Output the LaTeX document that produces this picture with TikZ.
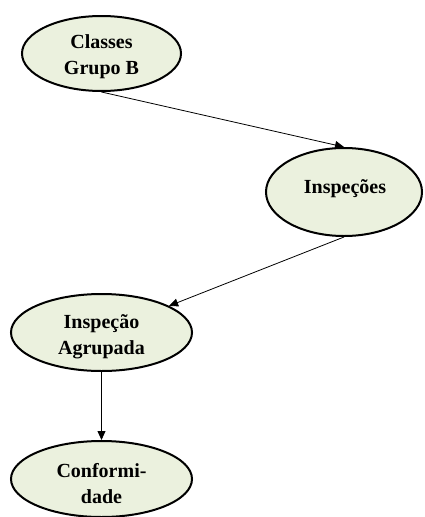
\documentclass[tikz,border=0pt]{standalone}
\usepackage{fontspec}
\setmainfont{Liberation Serif}
\usetikzlibrary{shapes.geometric, arrows.meta}
\definecolor{bubblefill}{HTML}{EBF1DE}
\begin{document}
\begin{tikzpicture}[x=1pt, y=-1pt,
  bubble/.style={ellipse, draw=black, line width=2pt, fill=bubblefill,
    inner sep=0pt},
  caption/.style={inner sep=0pt, align=center,
    font=\fontsize{20}{26}\selectfont\bfseries},
  link/.style={line width=0.8pt, -{Triangle[length=9pt, width=8pt]}}]
\useasboundingbox (0,0) rectangle (424,517);

% ellipses
\node[bubble, minimum width=159pt, minimum height=75pt] (classes) at (101.5,53.5) {};
\node[bubble, minimum width=156pt, minimum height=88pt] (insp) at (344,192) {};
\node[bubble, minimum width=181pt, minimum height=77pt] (agrup) at (101.5,332.5) {};
\node[bubble, minimum width=181pt, minimum height=76pt] (conf) at (101.5,479) {};

% texts
\node[caption] (classes-t) at (101.5,56.5) {Classes\\Grupo B};
\node[caption] (insp-t) at (345,188.5) {Inspeções};
\node[caption] (agrup-t) at (101.5,337) {Inspeção\\Agrupada};
\node[caption] (conf-t) at (101.5,483.5) {Conformi-\\dade};

% connectors
\draw[link] (classes.south) -- (insp.north);
\draw[link] (insp.south) -- (agrup);
\draw[link] (agrup) -- (conf);
\end{tikzpicture}
\end{document}
